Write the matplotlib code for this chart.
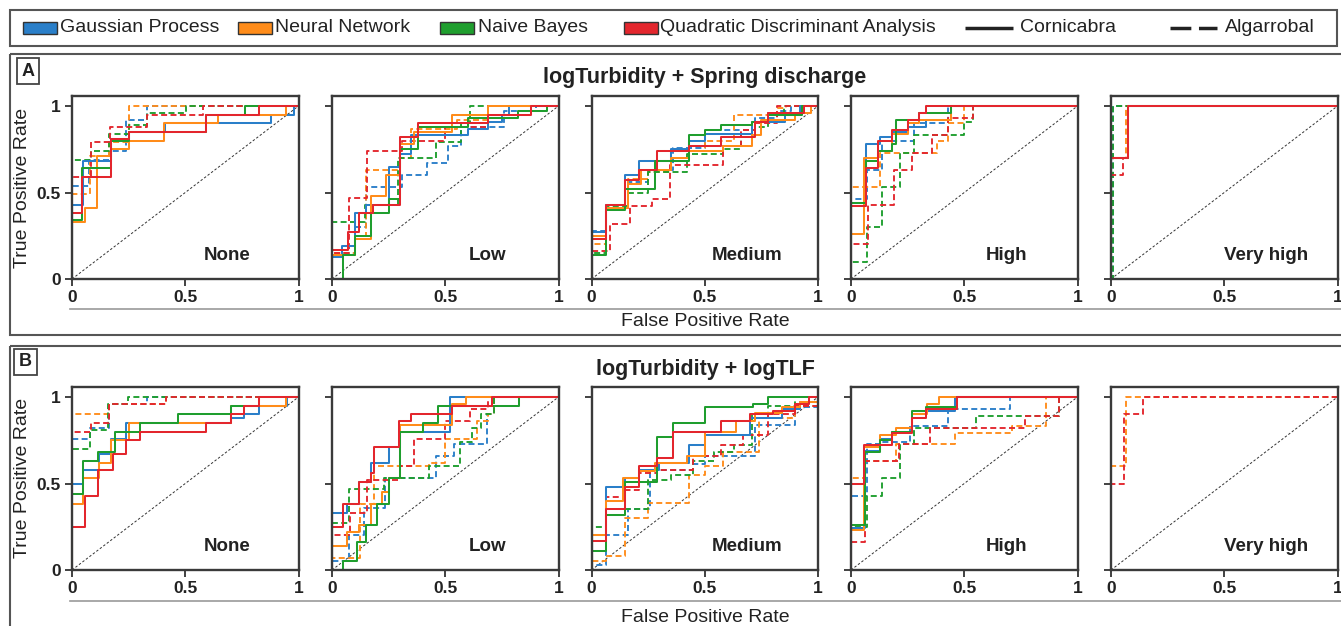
import matplotlib.pyplot as plt
from matplotlib.patches import Rectangle

plt.rcParams['font.family'] = ['Liberation Sans', 'DejaVu Sans']

MODELS = ["Gaussian Process", "Neural Network", "Naive Bayes", "Quadratic Discriminant Analysis"]
MODEL_KEYS = ["GP", "NN", "NB", "QDA"]
COLORS = ["#2a7fc9", "#ff8c1a", "#1f9e2e", "#e3262d"]
SITES = ["Cornicabra", "Algarrobal"]
SITE_KEYS = ["C", "A"]
LEVELS = ["None", "Low", "Medium", "High", "Very high"]
ROW_TITLES = ["logTurbidity + Spring discharge", "logTurbidity + logTLF"]
ROW_TAGS = ["A", "B"]

# ROC curves: (fpr, tpr) where the TPR jumps to tpr[i] at fpr[i]
# (0,0) and (1,1) are added when drawing

########################## ROW A ##########################
A_NONE = {
    "GP_C": ([0, 0.05, 0.17, 0.25, 0.41, 0.88, 0.98], [0.43, 0.68, 0.81, 0.85, 0.90, 0.95, 1.0]),
    "NN_C": ([0, 0.056, 0.11, 0.17, 0.25, 0.405, 0.645, 0.947], [0.33, 0.41, 0.71, 0.75, 0.80, 0.90, 0.95, 1.0]),
    "NB_C": ([0, 0.045, 0.17, 0.25, 0.59, 0.763], [0.34, 0.64, 0.80, 0.85, 0.95, 1.0]),
    "QDA_C": ([0, 0.045, 0.17, 0.25, 0.59, 0.826], [0.38, 0.59, 0.81, 0.85, 0.95, 1.0]),
    "GP_A": ([0, 0.075, 0.165, 0.24, 0.33], [0.54, 0.69, 0.74, 0.92, 1.0]),
    "NN_A": ([0, 0.08, 0.165, 0.25], [0.49, 0.71, 0.79, 1.0]),
    "NB_A": ([0, 0.085, 0.165, 0.25, 0.33, 0.505], [0.69, 0.74, 0.84, 0.89, 0.96, 1.0]),
    "QDA_A": ([0, 0.085, 0.166, 0.33, 0.58], [0.59, 0.79, 0.88, 0.95, 1.0]),
}
A_LOW = {
    "GP_C": ([0, 0.045, 0.10, 0.15, 0.25, 0.30, 0.35, 0.60, 0.69, 0.75, 0.78],
             [0.13, 0.19, 0.38, 0.43, 0.65, 0.72, 0.83, 0.87, 0.91, 0.95, 1.0]),
    "NN_C": ([0, 0.10, 0.17, 0.24, 0.30, 0.36, 0.53, 0.69], [0.14, 0.23, 0.48, 0.60, 0.78, 0.85, 0.95, 1.0]),
    "NB_C": ([0.05, 0.10, 0.17, 0.25, 0.30, 0.38, 0.60, 0.82, 0.95], [0.14, 0.25, 0.38, 0.46, 0.75, 0.88, 0.93, 0.97, 1.0]),
    "QDA_C": ([0, 0.07, 0.12, 0.18, 0.30, 0.38, 0.69, 0.88], [0.17, 0.27, 0.38, 0.43, 0.82, 0.90, 0.95, 1.0]),
    "GP_A": ([0, 0.10, 0.15, 0.31, 0.42, 0.51, 0.57, 0.76, 0.90], [0.15, 0.30, 0.53, 0.60, 0.67, 0.77, 0.88, 0.97, 1.0]),
    "NN_A": ([0, 0.10, 0.15, 0.30, 0.35, 0.55, 0.69], [0.15, 0.25, 0.63, 0.70, 0.87, 0.92, 1.0]),
    "NB_A": ([0, 0.147, 0.29, 0.46, 0.57, 0.61], [0.33, 0.43, 0.70, 0.79, 0.90, 1.0]),
    "QDA_A": ([0, 0.075, 0.155, 0.31, 0.50, 0.69], [0.15, 0.47, 0.74, 0.80, 0.88, 1.0]),
}
A_MED = {
    "GP_C": ([0, 0.066, 0.147, 0.21, 0.35, 0.43, 0.50, 0.71, 0.855, 0.92],
             [0.27, 0.43, 0.60, 0.68, 0.75, 0.80, 0.84, 0.91, 0.95, 1.0]),
    "NN_C": ([0, 0.066, 0.16, 0.22, 0.35, 0.43, 0.58, 0.71, 0.75, 0.90, 0.97],
             [0.25, 0.41, 0.55, 0.63, 0.70, 0.74, 0.77, 0.83, 0.92, 0.96, 1.0]),
    "NB_C": ([0, 0.066, 0.147, 0.28, 0.43, 0.50, 0.57, 0.71, 0.78, 0.93],
             [0.14, 0.40, 0.52, 0.68, 0.83, 0.86, 0.89, 0.91, 0.95, 1.0]),
    "QDA_C": ([0, 0.066, 0.147, 0.21, 0.29, 0.43, 0.57, 0.72, 0.78, 0.94],
              [0.23, 0.43, 0.57, 0.63, 0.74, 0.77, 0.82, 0.91, 0.96, 1.0]),
    "GP_A": ([0, 0.066, 0.16, 0.25, 0.36, 0.50, 0.59, 0.72, 0.82, 0.88],
             [0.28, 0.41, 0.56, 0.63, 0.76, 0.84, 0.86, 0.93, 0.97, 1.0]),
    "NN_A": ([0, 0.066, 0.16, 0.25, 0.35, 0.43, 0.50, 0.63, 0.82, 0.86],
             [0.20, 0.41, 0.58, 0.62, 0.70, 0.74, 0.80, 0.95, 0.99, 1.0]),
    "NB_A": ([0, 0.066, 0.16, 0.25, 0.42, 0.58, 0.66, 0.72, 0.78, 0.85],
             [0.15, 0.42, 0.50, 0.62, 0.72, 0.75, 0.84, 0.88, 0.96, 1.0]),
    "QDA_A": ([0, 0.08, 0.17, 0.265, 0.345, 0.58, 0.66, 0.72, 0.82],
              [0.16, 0.32, 0.42, 0.46, 0.66, 0.77, 0.86, 0.90, 1.0]),
}
A_HIGH = {
    "GP_C": ([0, 0.066, 0.128, 0.18, 0.25, 0.33, 0.44], [0.44, 0.78, 0.82, 0.85, 0.88, 0.92, 1.0]),
    "NN_C": ([0, 0.057, 0.12, 0.18, 0.25, 0.30, 0.44], [0.26, 0.70, 0.74, 0.84, 0.90, 0.92, 1.0]),
    "NB_C": ([0, 0.066, 0.12, 0.18, 0.20, 0.30, 0.44], [0.44, 0.68, 0.74, 0.78, 0.92, 0.96, 1.0]),
    "QDA_C": ([0, 0.066, 0.12, 0.18, 0.25, 0.30, 0.33], [0.42, 0.64, 0.80, 0.86, 0.92, 0.96, 1.0]),
    "GP_A": ([0, 0.07, 0.135, 0.28, 0.43], [0.46, 0.63, 0.80, 0.90, 1.0]),
    "NN_A": ([0, 0.128, 0.38, 0.43, 0.50], [0.53, 0.73, 0.80, 0.90, 1.0]),
    "NB_A": ([0, 0.07, 0.135, 0.216, 0.28, 0.50, 0.54], [0.10, 0.30, 0.53, 0.73, 0.83, 0.91, 1.0]),
    "QDA_A": ([0, 0.077, 0.19, 0.27, 0.356, 0.43, 0.54], [0.20, 0.43, 0.63, 0.73, 0.83, 0.93, 1.0]),
}
A_VHIGH = {
    "GP_C": ([0, 0.077], [0.70, 1.0]),
    "NN_C": ([0, 0.077], [0.70, 1.0]),
    "NB_C": ([0, 0.077], [0.70, 1.0]),
    "QDA_C": ([0, 0.077], [0.70, 1.0]),
    "GP_A": ([0.007], [1.0]),
    "NN_A": ([0, 0.066], [0.70, 1.0]),
    "NB_A": ([0.007], [1.0]),
    "QDA_A": ([0, 0.055, 0.077], [0.60, 0.70, 1.0]),
}

########################## ROW B ##########################
B_NONE = {
    "GP_C": ([0, 0.05, 0.118, 0.174, 0.24, 0.70, 0.76, 0.825, 0.95], [0.50, 0.58, 0.67, 0.76, 0.85, 0.88, 0.90, 0.95, 1.0]),
    "NN_C": ([0, 0.05, 0.118, 0.174, 0.25, 0.70, 0.947], [0.38, 0.53, 0.62, 0.75, 0.85, 0.95, 1.0]),
    "NB_C": ([0, 0.05, 0.115, 0.19, 0.30, 0.47, 0.70, 0.826], [0.44, 0.63, 0.68, 0.80, 0.85, 0.90, 0.95, 1.0]),
    "QDA_C": ([0, 0.056, 0.115, 0.18, 0.24, 0.30, 0.59, 0.70, 0.76, 0.826],
              [0.25, 0.43, 0.58, 0.67, 0.75, 0.80, 0.85, 0.90, 0.95, 1.0]),
    "GP_A": ([0, 0.08, 0.163, 0.33], [0.76, 0.82, 0.96, 1.0]),
    "NN_A": ([0, 0.163, 0.417], [0.90, 0.96, 1.0]),
    "NB_A": ([0, 0.078, 0.16, 0.247], [0.70, 0.81, 0.96, 1.0]),
    "QDA_A": ([0, 0.085, 0.163, 0.417], [0.80, 0.85, 0.96, 1.0]),
}
B_LOW = {
    "GP_C": ([0, 0.066, 0.118, 0.17, 0.25, 0.30, 0.52], [0.33, 0.38, 0.51, 0.62, 0.71, 0.80, 1.0]),
    "NN_C": ([0, 0.066, 0.12, 0.17, 0.22, 0.25, 0.30, 0.53, 0.59], [0.14, 0.22, 0.26, 0.38, 0.45, 0.53, 0.84, 0.96, 1.0]),
    "NB_C": ([0.05, 0.11, 0.15, 0.20, 0.25, 0.30, 0.40, 0.47, 0.825], [0.05, 0.16, 0.26, 0.38, 0.53, 0.80, 0.85, 0.95, 1.0]),
    "QDA_C": ([0, 0.05, 0.118, 0.17, 0.185, 0.295, 0.35, 0.53, 0.707],
              [0.25, 0.38, 0.51, 0.56, 0.71, 0.86, 0.90, 0.95, 1.0]),
    "GP_A": ([0, 0.075, 0.14, 0.235, 0.46, 0.54, 0.685, 0.715], [0.05, 0.20, 0.36, 0.53, 0.66, 0.73, 0.90, 1.0]),
    "NN_A": ([0, 0.125, 0.185, 0.43, 0.50, 0.64, 0.69, 0.715], [0.07, 0.38, 0.60, 0.62, 0.76, 0.86, 0.90, 1.0]),
    "NB_A": ([0, 0.075, 0.23, 0.43, 0.567, 0.62, 0.66, 0.715], [0.27, 0.47, 0.53, 0.60, 0.74, 0.82, 0.90, 1.0]),
    "QDA_A": ([0, 0.078, 0.155, 0.30, 0.36, 0.50, 0.61, 0.69], [0.20, 0.33, 0.52, 0.60, 0.76, 0.86, 0.93, 1.0]),
}
B_MED = {
    "GP_C": ([0, 0.066, 0.15, 0.21, 0.30, 0.43, 0.50, 0.70, 0.84, 0.92],
             [0.20, 0.48, 0.53, 0.58, 0.62, 0.72, 0.78, 0.88, 0.93, 0.97]),
    "NN_C": ([0, 0.066, 0.14, 0.21, 0.28, 0.42, 0.50, 0.64, 0.72, 0.84, 0.92],
             [0.20, 0.40, 0.53, 0.57, 0.62, 0.66, 0.80, 0.86, 0.91, 0.94, 0.97]),
    "NB_C": ([0, 0.066, 0.147, 0.287, 0.36, 0.50, 0.714, 0.78], [0.11, 0.32, 0.51, 0.77, 0.85, 0.94, 0.96, 1.0]),
    "QDA_C": ([0, 0.066, 0.15, 0.21, 0.29, 0.36, 0.57, 0.70, 0.80, 0.90, 0.96],
              [0.17, 0.35, 0.48, 0.60, 0.65, 0.80, 0.86, 0.90, 0.92, 0.96, 1.0]),
    "GP_A": ([0, 0.066, 0.16, 0.26, 0.45, 0.50, 0.72, 0.90], [0.03, 0.20, 0.35, 0.58, 0.61, 0.66, 0.84, 0.94]),
    "NN_A": ([0, 0.066, 0.15, 0.25, 0.43, 0.50, 0.58, 0.74, 0.90], [0.05, 0.08, 0.30, 0.39, 0.55, 0.60, 0.68, 0.88, 0.95]),
    "NB_A": ([0, 0.066, 0.25, 0.35, 0.45, 0.54, 0.63, 0.71, 0.78, 0.90],
             [0.25, 0.35, 0.52, 0.55, 0.63, 0.68, 0.72, 0.90, 0.95, 1.0]),
    "QDA_A": ([0, 0.066, 0.15, 0.21, 0.29, 0.45, 0.57, 0.67, 0.78, 0.90],
              [0.20, 0.42, 0.46, 0.56, 0.58, 0.66, 0.72, 0.78, 0.90, 0.95]),
}
B_HIGH = {
    "GP_C": ([0, 0.06, 0.13, 0.18, 0.27, 0.33, 0.46], [0.24, 0.69, 0.76, 0.80, 0.90, 0.92, 1.0]),
    "NN_C": ([0, 0.057, 0.13, 0.20, 0.27, 0.334, 0.39], [0.23, 0.71, 0.78, 0.82, 0.90, 0.96, 1.0]),
    "NB_C": ([0, 0.06, 0.13, 0.18, 0.27, 0.33, 0.47], [0.26, 0.68, 0.75, 0.80, 0.92, 0.94, 1.0]),
    "QDA_C": ([0, 0.057, 0.18, 0.27, 0.33, 0.47], [0.50, 0.72, 0.79, 0.88, 0.93, 1.0]),
    "GP_A": ([0, 0.07, 0.13, 0.26, 0.43, 0.70], [0.43, 0.73, 0.74, 0.83, 0.93, 1.0]),
    "NN_A": ([0, 0.06, 0.20, 0.46, 0.71, 0.86], [0.53, 0.63, 0.73, 0.79, 0.83, 1.0]),
    "NB_A": ([0, 0.07, 0.135, 0.215, 0.28, 0.55, 0.92], [0.25, 0.43, 0.53, 0.73, 0.82, 0.89, 1.0]),
    "QDA_A": ([0, 0.06, 0.21, 0.35, 0.77, 0.92], [0.16, 0.63, 0.73, 0.82, 0.89, 1.0]),
}
B_VHIGH = {
    "NN_A": ([0, 0.066], [0.60, 1.0]),
    "QDA_A": ([0, 0.057, 0.14], [0.50, 0.90, 1.0]),
}

ROWS = [[A_NONE, A_LOW, A_MED, A_HIGH, A_VHIGH],
        [B_NONE, B_LOW, B_MED, B_HIGH, B_VHIGH]]

W, H = 1341, 626
fig = plt.figure(figsize=(W / 100, H / 100), dpi=100)

# overlay in pixel coordinates for frames, legend and labels
ov = fig.add_axes([0, 0, 1, 1])
ov.set_xlim(0, W)
ov.set_ylim(H, 0)
ov.axis('off')


def frame(x0, y0, x1, y1):
    ov.add_patch(Rectangle((x0, y0), x1 - x0, y1 - y0, fill=False, ec='#555555', lw=1.5))


frame(10, 10, 1337, 46)
frame(10, 54, 1345, 335)
frame(10, 346, 1345, 640)

# legend
patch_x = [23, 238, 440, 624]
text_x = [60, 275, 478, 660]
for m in range(4):
    ov.add_patch(Rectangle((patch_x[m], 22), 34, 12, fc=COLORS[m], ec='#333333', lw=1))
    ov.text(text_x[m], 28, MODELS[m], ha='left', va='center', fontsize=14, color='#222222')
ov.plot([965, 1013], [28, 28], color='#222222', lw=2.5, solid_capstyle='butt')
ov.text(1020, 28, SITES[0], ha='left', va='center', fontsize=14, color='#222222')
ov.plot([1170, 1217], [28, 28], color='#222222', lw=2.5, dashes=(6, 2.2), dash_capstyle='butt')
ov.text(1225, 28, SITES[1], ha='left', va='center', fontsize=14, color='#222222')

COL_X = [72, 332, 591.5, 851, 1111]
AX_W = 226.5
ROW_Y = [(96, 279), (387, 570)]
ROW_TXT = [dict(tag=(28, 71), title=76, xl=322, line=309, yl=188),
           dict(tag=(25.5, 362), title=369, xl=617, line=601, yl=478)]

for r, row in enumerate(ROWS):
    top, bot = ROW_Y[r]
    t = ROW_TXT[r]
    ov.text(t['tag'][0], t['tag'][1], ROW_TAGS[r], ha='center', va='center', fontsize=13,
            fontweight='bold', color='#222222',
            bbox=dict(boxstyle='square,pad=0.25', fc='white', ec='#444444', lw=1.3))
    ov.text(705, t['title'] + 1, ROW_TITLES[r], ha='center', va='center', fontsize=15.5,
            fontweight='bold', color='#222222')
    ov.plot([70, 1341], [t['line'], t['line']], color='#999999', lw=1.2)
    ov.text(705, t['xl'], 'False Positive Rate', ha='center', va='center', fontsize=14, color='#222222')
    ov.text(23, t['yl'], 'True Positive Rate', ha='center', va='center', rotation=90,
            fontsize=14, color='#222222')

    for c, panel in enumerate(row):
        ax = fig.add_axes([COL_X[c] / W, 1 - bot / H, AX_W / W, (bot - top) / H])
        ax.plot([0, 1], [0, 1], color='#333333', lw=0.7, dashes=(2.5, 2))
        for s in [1, 0]:
            for m, key in enumerate(MODEL_KEYS):
                curve = panel.get(key + "_" + SITE_KEYS[s])
                if curve is None:
                    continue
                fpr = [0] + curve[0] + [1]
                tpr = [0] + curve[1] + [1]
                if s == 0:
                    ax.plot(fpr, tpr, drawstyle='steps-post', color=COLORS[m], lw=1.45)
                else:
                    ax.plot(fpr, tpr, drawstyle='steps-post', color=COLORS[m], lw=1.35, dashes=(3.2, 1.8))
        ax.set_xlim(0, 1)
        ax.set_ylim(0, 1.058)
        ax.set_xticks([0, 0.5, 1])
        ax.set_xticklabels(['0', '0.5', '1'], fontweight='bold')
        ax.set_yticks([0, 0.5, 1])
        if c == 0:
            ax.set_yticklabels(['0', '0.5', '1'], fontweight='bold')
        else:
            ax.set_yticklabels([])
        ax.tick_params(direction='out', length=5, width=1.3, color='#333333',
                       labelsize=12.5, labelcolor='#222222', pad=3)
        for sp in ax.spines.values():
            sp.set_linewidth(1.7)
            sp.set_color('#3a3a3a')
        ax.text(0.685, 0.127, LEVELS[c], transform=ax.transAxes, ha='center', va='center',
                fontsize=13.5, fontweight='bold', color='#222222')

fig.savefig('out.png', dpi=100)
